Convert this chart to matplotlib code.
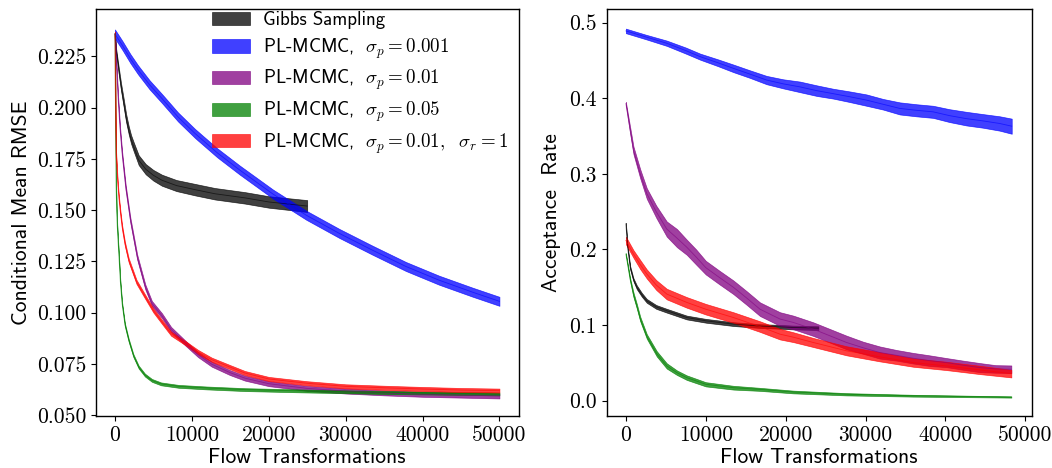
import numpy as np
import matplotlib
matplotlib.use("Agg")
from matplotlib import pyplot as plt

plt.rcParams['mathtext.fontset'] = 'cm'
plt.rcParams['axes.formatter.use_mathtext'] = True

labels = ["Gibbs Sampling",
          r"PL-MCMC, $\ \sigma_p = 0.001$",
          r"PL-MCMC, $\ \sigma_p = 0.01$",
          r"PL-MCMC, $\ \sigma_p = 0.05$",
          r"PL-MCMC, $\ \sigma_p = 0.01,\ \ \sigma_r = 1$"]
colors = ["black", "blue", "purple", "green", "red"]

# ---- left panel: conditional mean RMSE (mean, half band width)
gibbs_x = [0, 150, 500, 800, 1140, 1450, 1790, 2100, 2440, 3090, 4000, 5000, 6110, 8000, 10420, 13000, 16900,
           20000, 25000]
gibbs_y = [0.236, 0.228, 0.218, 0.210, 0.2023, 0.195, 0.189, 0.1845, 0.1809, 0.1744, 0.170, 0.167, 0.1646,
           0.162, 0.160, 0.158, 0.1560, 0.154, 0.152]
gibbs_e = [0.0005, 0.001, 0.0015, 0.0018, 0.002, 0.002, 0.002, 0.0021, 0.0022, 0.0024, 0.0025, 0.0026, 0.0027,
           0.0027, 0.0028, 0.0028, 0.0028, 0.0028, 0.0029]

blue_x = [0, 1000, 2000, 3000, 4500, 6110, 8200, 10420, 13300, 16250, 20570, 24890, 29200, 33520, 37840, 42160,
          46480, 50000]
blue_y = [0.236, 0.2302, 0.2240, 0.2185, 0.2112, 0.2045, 0.1955, 0.1874, 0.178, 0.1695, 0.1578, 0.1475, 0.1386,
          0.1304, 0.1225, 0.1158, 0.1100, 0.1055]
blue_e = [0.0022] * len(blue_x)

purple_x = [0, 80, 200, 400, 650, 928, 1400, 2007, 2900, 3950, 4800, 6110, 7300, 9130, 10800, 12590, 14960,
            16900, 20000, 25000, 30000, 35000, 40000, 45000, 50000]
purple_y = [0.236, 0.230, 0.220, 0.205, 0.190, 0.1776, 0.161, 0.1451, 0.127, 0.1125, 0.1045, 0.0985, 0.0918,
            0.0852, 0.0795, 0.0748, 0.0707, 0.068, 0.0653, 0.063, 0.0617, 0.0608, 0.0601, 0.0597, 0.0593]
purple_e = [0.0012] * len(purple_x)

green_x = [0, 30, 60, 100, 151, 220, 300, 400, 497, 700, 928, 1300, 1790, 2400, 3086, 3900, 4810, 6000, 8270,
           12000, 16900, 25000, 35000, 50000]
green_y = [0.236, 0.222, 0.200, 0.180, 0.1613, 0.150, 0.142, 0.135, 0.1288, 0.115, 0.1044, 0.094, 0.0865, 0.079,
           0.0734, 0.0695, 0.0669, 0.0652, 0.0640, 0.0632, 0.0624, 0.0617, 0.0610, 0.0603]
green_e = [0.0007] * len(green_x)

red_x = [0, 30, 60, 100, 151, 250, 360, 497, 700, 928, 1300, 1790, 2800, 3950, 5000, 6110, 7300, 9130, 10800,
         12590, 14960, 16900, 20000, 25000, 30000, 35000, 40000, 45000, 50000]
red_y = [0.236, 0.222, 0.205, 0.189, 0.1776, 0.170, 0.163, 0.1565, 0.149, 0.1418, 0.1335, 0.1255, 0.115, 0.1076,
         0.101, 0.0955, 0.0897, 0.0852, 0.0808, 0.0770, 0.0734, 0.0705, 0.0676, 0.0655, 0.0640, 0.0633, 0.0627,
         0.0622, 0.0619]
red_e = [0.0010] * len(red_x)

# ---- right panel: acceptance rate
acc_gibbs_x = [0, 200, 540, 950, 1370, 2000, 2620, 3800, 5120, 7620, 10000, 13460, 16790, 19290, 20960, 24100]
acc_gibbs_y = [0.234, 0.205, 0.176, 0.160, 0.150, 0.140, 0.132, 0.124, 0.119, 0.110, 0.1057, 0.1013, 0.0987,
               0.0977, 0.0968, 0.096]
acc_gibbs_e = [0.001, 0.002, 0.002, 0.002, 0.0025, 0.0025, 0.0025, 0.0025, 0.0025, 0.0025, 0.0025, 0.0025,
               0.0025, 0.0025, 0.0025, 0.0025]

acc_blue_x = [0, 2500, 5120, 7500, 9290, 11500, 13460, 15500, 17620, 19700, 21790, 23900, 25960, 28000, 30120,
              32200, 34290, 36400, 38460, 40500, 42620, 44700, 46790, 48300]
acc_blue_y = [0.489, 0.481, 0.4727, 0.463, 0.455, 0.447, 0.4395, 0.432, 0.424, 0.419, 0.415, 0.410, 0.406, 0.402,
              0.3975, 0.392, 0.3865, 0.384, 0.382, 0.377, 0.373, 0.370, 0.3666, 0.363]
acc_blue_e = [0.003, 0.003, 0.0035, 0.004, 0.004, 0.0045, 0.005, 0.005, 0.0055, 0.006, 0.007, 0.007, 0.0065,
              0.007, 0.0075, 0.007, 0.008, 0.008, 0.008, 0.0085, 0.009, 0.009, 0.0095, 0.010]

acc_purple_x = [0, 500, 954, 1800, 2620, 3800, 5120, 6400, 7620, 8800, 10000, 11700, 13460, 15100, 16790, 19290,
                20960, 23450, 25500, 27620, 29700, 31790, 33900, 35960, 38000, 40120, 42200, 44290, 46300, 48250]
acc_purple_y = [0.393, 0.360, 0.331, 0.300, 0.274, 0.250, 0.227, 0.215, 0.203, 0.190, 0.176, 0.163, 0.150, 0.136,
                0.121, 0.108, 0.1035, 0.0947, 0.086, 0.077, 0.070, 0.0637, 0.060, 0.0562, 0.053, 0.0504, 0.047,
                0.0438, 0.042, 0.0416]
acc_purple_e = [0.002, 0.004, 0.005, 0.006, 0.007, 0.008, 0.010, 0.012, 0.010, 0.010, 0.009, 0.009, 0.009,
                0.009, 0.009, 0.009, 0.009, 0.009, 0.009, 0.009, 0.008, 0.008, 0.007, 0.007, 0.007, 0.006,
                0.006, 0.006, 0.005, 0.005]

acc_green_x = [0, 540, 954, 1370, 1800, 2620, 3870, 5120, 6400, 7620, 10000, 13460, 16790, 20960, 27620, 35960, 48250]
acc_green_y = [0.194, 0.160, 0.140, 0.125, 0.108, 0.085, 0.062, 0.046, 0.037, 0.0305, 0.0217, 0.0172, 0.015,
               0.0115, 0.0085, 0.0066, 0.0049]
acc_green_e = [0.001, 0.002, 0.003, 0.003, 0.003, 0.003, 0.0035, 0.0035, 0.003, 0.003, 0.0028, 0.0025, 0.002,
               0.0018, 0.0015, 0.0012, 0.0008]

acc_red_x = [0, 954, 1800, 2620, 3800, 5120, 7620, 10000, 13460, 16790, 19290, 20960, 23450, 27620, 31790,
             35960, 40120, 44290, 48250]
acc_red_y = [0.212, 0.194, 0.180, 0.1676, 0.153, 0.141, 0.130, 0.121, 0.110, 0.098, 0.088, 0.084, 0.077, 0.066,
             0.058, 0.0504, 0.046, 0.0407, 0.0358]
acc_red_e = [0.005, 0.005, 0.006, 0.006, 0.0065, 0.007, 0.007, 0.007, 0.007, 0.007, 0.007, 0.0065, 0.006, 0.006,
             0.006, 0.0055, 0.0055, 0.0055, 0.005]


def band(ax, x, y, e, color, label=None):
    x = np.array(x)
    y = np.array(y)
    e = np.array(e)
    ax.fill_between(x, y - e, y + e, color=color, alpha=0.75, lw=0.5, label=label)
    ax.plot(x, y, color=color, alpha=0.6, lw=0.6)


fig = plt.figure(figsize=(10.52, 4.68), dpi=100)
ax1 = fig.add_axes([0.091, 0.111, 0.402, 0.869])
ax2 = fig.add_axes([0.5767, 0.111, 0.404, 0.869])

left = [(gibbs_x, gibbs_y, gibbs_e), (blue_x, blue_y, blue_e), (purple_x, purple_y, purple_e),
        (green_x, green_y, green_e), (red_x, red_y, red_e)]
right = [(acc_gibbs_x, acc_gibbs_y, acc_gibbs_e), (acc_blue_x, acc_blue_y, acc_blue_e),
         (acc_purple_x, acc_purple_y, acc_purple_e), (acc_green_x, acc_green_y, acc_green_e),
         (acc_red_x, acc_red_y, acc_red_e)]

for (x, y, e), c, lab in zip(left, colors, labels):
    band(ax1, x, y, e, c, lab)
for (x, y, e), c in zip(right, colors):
    band(ax2, x, y, e, c)

ax1.set_xlim(-2500, 52500)
ax1.set_ylim(0.0495, 0.248)
ax1.set_yticks([0.050, 0.075, 0.100, 0.125, 0.150, 0.175, 0.200, 0.225])
ax1.set_yticklabels(["%.3f" % v for v in ax1.get_yticks()])
ax2.set_xlim(-2400, 50800)
ax2.set_ylim(-0.0203, 0.5175)
ax2.set_yticks([0.0, 0.1, 0.2, 0.3, 0.4, 0.5])
ax2.set_yticklabels(["%.1f" % v for v in ax2.get_yticks()])

for ax in (ax1, ax2):
    ax.set_xticks([0, 10000, 20000, 30000, 40000, 50000])
    ax.set_xticklabels(["0", "10000", "20000", "30000", "40000", "50000"])
    for t in ax.get_xticklabels() + ax.get_yticklabels():
        t.set_fontfamily("cmr10")
        t.set_fontsize(15.5)
    ax.set_xlabel("Flow Transformations", fontfamily="cmss10", fontsize=15.5, labelpad=2)
    for s in ax.spines.values():
        s.set_linewidth(1.0)

ax1.set_ylabel("Conditional Mean RMSE", fontfamily="cmss10", fontsize=15.5, labelpad=4)
ax2.set_ylabel("Acceptance  Rate", fontfamily="cmss10", fontsize=15.5, labelpad=6)

leg = ax1.legend(loc="upper left", bbox_to_anchor=(0.258, 1.014), frameon=False,
                 prop={"family": "cmss10", "size": 13.6}, handlelength=2.0, handleheight=0.7,
                 labelspacing=0.38, borderaxespad=0.0, handletextpad=0.7)

plt.savefig("out.png", dpi=100)
